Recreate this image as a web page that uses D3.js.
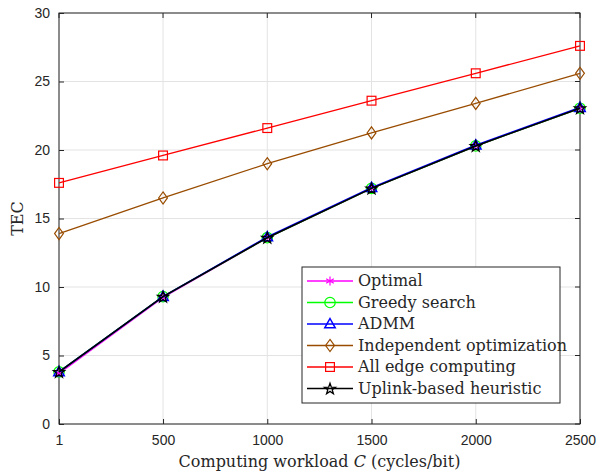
<!DOCTYPE html>
<html>
<head>
<meta charset="utf-8">
<script src="https://cdn.jsdelivr.net/npm/d3@7"></script>
<style>
  body { margin: 0; background: #fff; }
  svg { display: block; }
  .tick text { font-family: "Liberation Sans", Arial, sans-serif; font-size: 14px; fill: #262626; }
  .lbl { font-family: "DejaVu Serif", "Liberation Serif", serif; font-size: 16px; fill: #262626; }
</style>
</head>
<body>
<div id="chart"></div>
<script>
// Chart data
const workload = [1, 500, 1000, 1500, 2000, 2500];
const xTicks = [1, 500, 1000, 1500, 2000, 2500];
const yTicks = [0, 5, 10, 15, 20, 25, 30];

const optimal     = [3.7, 9.25, 13.6, 17.2, 20.3, 23.05];
const greedy      = [3.8, 9.3, 13.6, 17.2, 20.3, 23.05];
const admm        = [3.8, 9.3, 13.65, 17.25, 20.35, 23.1];
const independent = [13.9, 16.5, 19.0, 21.25, 23.4, 25.6];
const allEdge     = [17.6, 19.6, 21.6, 23.6, 25.6, 27.6];
const uplink      = [3.8, 9.3, 13.6, 17.2, 20.3, 23.05];

const series = [
  { name: 'Optimal', values: optimal, color: '#ff00ff', marker: 'asterisk' },
  { name: 'Greedy search', values: greedy, color: '#00ff00', marker: 'circle' },
  { name: 'ADMM', values: admm, color: '#0000ff', marker: 'triangle' },
  { name: 'Independent optimization', values: independent, color: '#994c00', marker: 'diamond' },
  { name: 'All edge computing', values: allEdge, color: '#ff0000', marker: 'square' },
  { name: 'Uplink-based heuristic', values: uplink, color: '#000000', marker: 'star' }
];

const width = 598, height = 472;
const margin = { top: 13, right: 18, bottom: 48, left: 59 };
const iw = width - margin.left - margin.right;
const ih = height - margin.top - margin.bottom;

const svg = d3.select('#chart').append('svg')
  .attr('width', width).attr('height', height);
const g = svg.append('g').attr('transform', `translate(${margin.left},${margin.top})`);

const x = d3.scaleLinear().domain([1, 2500]).range([0, iw]);
const y = d3.scaleLinear().domain([0, 30]).range([ih, 0]);

// grid
g.append('g').selectAll('line').data(xTicks).join('line')
  .attr('x1', d => x(d)).attr('x2', d => x(d)).attr('y1', 0).attr('y2', ih)
  .attr('stroke', '#e3e3e3').attr('stroke-width', 1);
g.append('g').selectAll('line').data(yTicks).join('line')
  .attr('y1', d => y(d)).attr('y2', d => y(d)).attr('x1', 0).attr('x2', iw)
  .attr('stroke', '#e3e3e3').attr('stroke-width', 1);

// axes
const xAxis = g.append('g').attr('transform', `translate(0,${ih})`)
  .call(d3.axisBottom(x).tickValues(xTicks).tickFormat(d3.format('d')).tickSizeInner(-5).tickSizeOuter(0).tickPadding(11));
const yAxis = g.append('g')
  .call(d3.axisLeft(y).tickValues(yTicks).tickSizeInner(-5).tickSizeOuter(0).tickPadding(9));
[xAxis, yAxis].forEach(a => {
  a.select('.domain').remove();
  a.selectAll('.tick line').attr('stroke', '#262626');
});
// top/right ticks
g.append('g').selectAll('line').data(xTicks).join('line')
  .attr('x1', d => x(d)).attr('x2', d => x(d)).attr('y1', 0).attr('y2', 5).attr('stroke', '#262626');
g.append('g').selectAll('line').data(yTicks).join('line')
  .attr('y1', d => y(d)).attr('y2', d => y(d)).attr('x1', iw).attr('x2', iw - 5).attr('stroke', '#262626');
g.append('rect').attr('width', iw).attr('height', ih)
  .attr('fill', 'none').attr('stroke', '#262626').attr('stroke-width', 1);

// marker drawing
function drawMarker(sel, type, color, s) {
  const r = s / 2;
  if (type === 'circle') {
    sel.append('circle').attr('r', r * 0.95).attr('fill', 'none').attr('stroke', color).attr('stroke-width', 1.2);
  } else if (type === 'square') {
    sel.append('rect').attr('x', -r * 0.8).attr('y', -r * 0.8).attr('width', r * 1.6).attr('height', r * 1.6)
      .attr('fill', 'none').attr('stroke', color).attr('stroke-width', 1.2);
  } else if (type === 'diamond') {
    sel.append('path').attr('d', `M0,${-r * 1.1}L${r * 0.8},0L0,${r * 1.1}L${-r * 0.8},0Z`)
      .attr('fill', 'none').attr('stroke', color).attr('stroke-width', 1.2);
  } else if (type === 'triangle') {
    sel.append('path').attr('d', `M0,${-r}L${r * 0.95},${r * 0.7}L${-r * 0.95},${r * 0.7}Z`)
      .attr('fill', 'none').attr('stroke', color).attr('stroke-width', 1.5);
  } else if (type === 'asterisk') {
    const p = [];
    for (let k = 0; k < 3; k++) {
      const a = Math.PI / 2 + k * Math.PI / 3;
      p.push(`M${r * 0.8 * Math.cos(a)},${-r * 0.8 * Math.sin(a)}L${-r * 0.8 * Math.cos(a)},${r * 0.8 * Math.sin(a)}`);
    }
    sel.append('path').attr('d', p.join('')).attr('stroke', color).attr('stroke-width', 1.2);
  } else if (type === 'star') {
    const pts = [];
    for (let k = 0; k < 10; k++) {
      const a = -Math.PI / 2 + k * Math.PI / 5;
      const rr = k % 2 === 0 ? r * 1.05 : r * 0.42;
      pts.push([rr * Math.cos(a), rr * Math.sin(a) + r * 0.1]);
    }
    sel.append('path').attr('d', 'M' + pts.join('L') + 'Z')
      .attr('fill', 'none').attr('stroke', color).attr('stroke-width', 1.3);
  }
}

const line = d3.line().x((d, i) => x(workload[i])).y(d => y(d));

series.forEach(s => {
  const isThick = ['Optimal', 'Greedy search', 'ADMM', 'Uplink-based heuristic'].includes(s.name);
  g.append('path').datum(s.values)
    .attr('d', line).attr('fill', 'none').attr('stroke', s.color)
    .attr('stroke-width', isThick ? 1.6 : 1.3);
  s.values.forEach((v, i) => {
    const m = g.append('g').attr('transform', `translate(${x(workload[i])},${y(v)})`);
    drawMarker(m, s.marker, s.color, 11);
  });
});

// legend
const lg = svg.append('g').attr('transform', 'translate(302,267)');
lg.append('rect').attr('width', 258).attr('height', 136)
  .attr('fill', '#fff').attr('stroke', '#262626').attr('stroke-width', 1);
series.forEach((s, i) => {
  const yy = 14 + i * 21.5;
  lg.append('line').attr('x1', 5).attr('x2', 51).attr('y1', yy).attr('y2', yy)
    .attr('stroke', s.color).attr('stroke-width', 1.5);
  const m = lg.append('g').attr('transform', `translate(28,${yy})`);
  drawMarker(m, s.marker, s.color, 11);
  lg.append('text').attr('class', 'lbl').attr('x', 56).attr('y', yy + 5).text(s.name);
});

// axis labels
const xl = svg.append('text').attr('class', 'lbl').attr('text-anchor', 'middle')
  .attr('x', margin.left + iw / 2).attr('y', 467);
xl.append('tspan').text('Computing workload ');
xl.append('tspan').attr('font-style', 'italic').text('C');
xl.append('tspan').text(' (cycles/bit)');

svg.append('text').attr('class', 'lbl').attr('text-anchor', 'middle')
  .attr('transform', `translate(23,${margin.top + ih / 2}) rotate(-90)`).text('TEC');
</script>
</body>
</html>
